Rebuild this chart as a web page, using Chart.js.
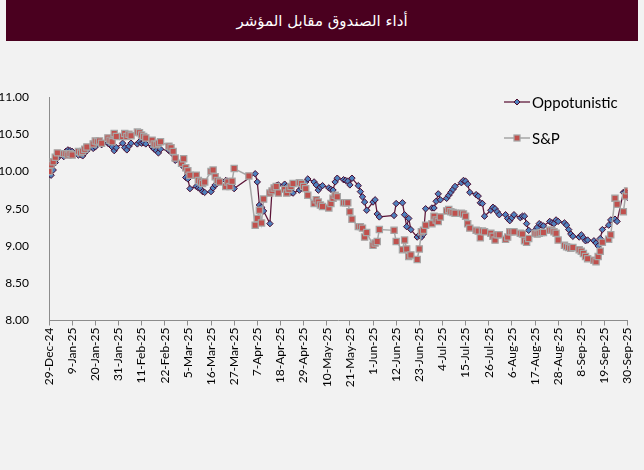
<!DOCTYPE html>
<html><head><meta charset="utf-8">
<script src="https://cdn.jsdelivr.net/npm/chart.js@4"></script>
<style>
html,body{margin:0;padding:0;background:#f2f2f2;width:644px;height:470px;overflow:hidden;}
#wrap{position:relative;width:644px;height:470px;background:#f2f2f2;}
#title{position:absolute;left:6px;top:0;width:632px;height:41px;background:#4a001f;color:#fff;font-family:"DejaVu Sans",sans-serif;font-size:15px;display:flex;align-items:center;justify-content:center;direction:rtl;z-index:2;}
#c{position:absolute;left:0;top:0;}
#legend{position:absolute;left:504px;top:92px;font-family:Lato,sans-serif;font-size:15px;color:#000;z-index:2;}
.row{display:flex;align-items:center;height:20px;margin-bottom:16px;}
.row svg{margin-right:2px;}
</style></head>
<body><div id="wrap">
<div id="title">أداء الصندوق مقابل المؤشر</div>
<canvas id="c" width="644" height="470"></canvas>
<div id="legend">
 <div class="row"><svg width="26" height="12"><line x1="0" y1="6" x2="26" y2="6" stroke="#5b1336" stroke-width="1.25"/><polygon points="13,3 16,6 13,9 10,6" fill="#4f81bd" stroke="#4a0a2e" stroke-width="1"/></svg><span>Oppotunistic</span></div>
 <div class="row"><svg width="26" height="12"><line x1="0" y1="6" x2="26" y2="6" stroke="#a6a6a6" stroke-width="1.5"/><rect x="10" y="3" width="6" height="6" fill="#c0504d" stroke="#a6a6a6" stroke-width="1.25"/></svg><span>S&amp;P</span></div>
</div>
</div>
<script>
const seriesNames = ["Oppotunistic", "S&P"];
const dates = ["2024-12-29","2024-12-30","2024-12-31","2025-01-01","2025-01-02",
"2025-01-05","2025-01-06","2025-01-07","2025-01-08","2025-01-09",
"2025-01-12","2025-01-13","2025-01-14","2025-01-15","2025-01-16",
"2025-01-19","2025-01-20","2025-01-21","2025-01-22","2025-01-23",
"2025-01-26","2025-01-27","2025-01-28","2025-01-29","2025-01-30",
"2025-02-02","2025-02-03","2025-02-04","2025-02-05","2025-02-06",
"2025-02-09","2025-02-10","2025-02-11","2025-02-12","2025-02-13",
"2025-02-16","2025-02-17","2025-02-18","2025-02-19","2025-02-20",
"2025-02-24","2025-02-25","2025-02-26","2025-02-27",
"2025-03-02","2025-03-03","2025-03-04","2025-03-05","2025-03-06",
"2025-03-09","2025-03-10","2025-03-11","2025-03-12","2025-03-13",
"2025-03-16","2025-03-17","2025-03-18","2025-03-19","2025-03-20",
"2025-03-23","2025-03-24","2025-03-25","2025-03-26","2025-03-27",
"2025-04-03",
"2025-04-06","2025-04-07","2025-04-08","2025-04-09","2025-04-10",
"2025-04-13","2025-04-14","2025-04-15","2025-04-16","2025-04-17",
"2025-04-20","2025-04-21","2025-04-22","2025-04-23","2025-04-24",
"2025-04-27","2025-04-28","2025-04-29","2025-04-30","2025-05-01",
"2025-05-04","2025-05-05","2025-05-06","2025-05-07","2025-05-08",
"2025-05-11","2025-05-12","2025-05-13","2025-05-14","2025-05-15",
"2025-05-18","2025-05-19","2025-05-20","2025-05-21","2025-05-22",
"2025-05-25","2025-05-26","2025-05-27","2025-05-28","2025-05-29",
"2025-06-01","2025-06-02","2025-06-03","2025-06-04",
"2025-06-11","2025-06-12",
"2025-06-15","2025-06-16","2025-06-17","2025-06-18","2025-06-19",
"2025-06-22","2025-06-23","2025-06-24","2025-06-25","2025-06-26",
"2025-06-29","2025-06-30","2025-07-01","2025-07-02","2025-07-03",
"2025-07-06","2025-07-07","2025-07-08","2025-07-09","2025-07-10",
"2025-07-13","2025-07-14","2025-07-15","2025-07-16","2025-07-17",
"2025-07-20","2025-07-21","2025-07-22","2025-07-23","2025-07-24",
"2025-07-27","2025-07-28","2025-07-29","2025-07-30","2025-07-31",
"2025-08-03","2025-08-04","2025-08-05","2025-08-06","2025-08-07",
"2025-08-10","2025-08-11","2025-08-12","2025-08-13","2025-08-14",
"2025-08-17","2025-08-18","2025-08-19","2025-08-20","2025-08-21",
"2025-08-24","2025-08-25","2025-08-26","2025-08-27","2025-08-28",
"2025-08-31","2025-09-01","2025-09-02","2025-09-03","2025-09-04",
"2025-09-07","2025-09-08","2025-09-09","2025-09-10","2025-09-11",
"2025-09-14","2025-09-15","2025-09-16","2025-09-17","2025-09-18",
"2025-09-21","2025-09-22","2025-09-24","2025-09-25",
"2025-09-28","2025-09-29","2025-09-30"];

const oppValues = [9.96,9.95,10.02,10.12,10.18,
10.20,10.27,10.29,10.28,10.27,
10.22,10.23,10.21,10.25,10.28,
10.31,10.33,10.37,10.38,10.36,
10.38,10.36,10.33,10.28,10.32,
10.38,10.32,10.29,10.34,10.38,
10.37,10.40,10.38,10.39,10.37,
10.33,10.30,10.28,10.25,10.30,
10.28,10.27,10.23,10.15,
10.10,10.06,9.92,9.90,9.77,
9.80,9.78,9.77,9.73,9.72,
9.73,9.78,9.82,9.84,9.86,
9.88,9.87,9.85,9.83,9.77,
null,
9.97,9.86,9.55,9.52,9.47,
9.30,9.75,9.78,9.81,9.82,
9.83,9.80,9.74,9.72,9.71,
9.75,9.78,9.83,9.86,9.90,
9.86,9.82,9.75,9.79,9.81,
9.78,9.76,9.75,9.86,9.91,
9.89,9.88,9.87,9.82,9.91,
9.81,9.73,9.66,9.59,9.48,
9.59,9.62,9.43,9.39,
9.41,9.57,
9.58,9.42,9.26,9.37,9.22,
9.12,9.15,9.12,9.16,9.50,
9.51,9.51,9.60,9.70,9.62,
9.64,9.68,9.72,9.76,9.80,
9.85,9.88,9.87,9.83,9.72,
9.69,9.67,9.58,9.57,9.40,
9.48,9.52,9.50,9.46,9.42,
9.42,9.37,9.34,9.38,9.42,
9.38,9.40,9.40,9.30,9.21,
9.21,9.25,9.30,9.28,9.27,
9.33,9.31,9.30,9.35,9.33,
9.31,9.28,9.22,9.16,9.13,
9.12,9.15,9.11,9.07,9.08,
9.07,9.04,9.00,9.10,9.22,
9.28,9.35,9.36,9.33,
9.72,9.73,9.65];

const spValues = [10.00,10.09,10.13,10.19,10.25,
10.24,10.24,10.22,10.24,10.22,
10.27,10.25,10.27,10.30,10.33,
10.37,10.41,10.40,10.41,10.38,
10.45,10.42,10.40,10.51,10.47,
10.47,10.51,10.47,10.50,10.48,
10.53,10.52,10.49,10.47,10.45,
10.42,10.37,10.36,10.38,10.40,
10.34,10.32,10.27,10.18,
10.11,10.17,10.05,10.01,9.95,
9.95,9.88,9.86,9.84,9.86,
10.00,10.02,9.93,9.88,9.86,
9.80,9.86,9.80,9.87,10.04,
9.94,
9.28,9.37,9.48,9.31,9.63,
9.71,9.74,9.78,9.80,9.71,
9.76,9.71,9.76,9.80,9.84,
9.85,9.84,9.80,9.77,9.68,
9.57,9.62,9.59,9.55,9.53,
9.51,9.57,9.64,9.68,9.66,
9.58,9.58,9.58,9.46,9.36,
9.26,9.26,9.24,9.12,9.18,
9.01,9.04,9.06,9.22,
9.21,9.06,
8.95,9.08,8.96,8.86,8.88,
8.82,8.96,9.19,9.21,9.28,
9.30,9.40,9.35,9.33,9.39,
9.47,9.49,9.46,9.45,9.44,
9.44,9.43,9.40,9.30,9.24,
9.21,9.20,9.11,9.20,9.19,
9.17,9.13,9.08,9.15,9.15,
9.09,9.12,9.19,9.19,9.19,
9.17,9.16,9.07,9.05,9.10,
9.17,9.16,9.17,9.18,9.18,
9.21,9.21,9.19,9.17,9.08,
9.01,8.99,8.98,8.97,8.98,
8.95,8.93,8.90,8.86,8.83,
8.81,8.79,8.86,8.93,9.05,
9.09,9.15,9.64,9.56,
9.46,9.67,9.74];

const axisStart = "2024-12-29";
const axisEnd = "2025-09-30";
const tickStepDays = 11;
const yTicks = [8.00, 8.50, 9.00, 9.50, 10.00, 10.50, 11.00];

const DAY = 864e5;
const t0 = Date.parse(axisStart + "T00:00:00Z");
const dayOf = s => Math.round((Date.parse(s + "T00:00:00Z") - t0) / DAY);
const maxDay = dayOf(axisEnd);
const MONTHS = ["Jan","Feb","Mar","Apr","May","Jun","Jul","Aug","Sep","Oct","Nov","Dec"];
function fmtDay(v){
  const d = new Date(t0 + v * DAY);
  return d.getUTCDate() + "-" + MONTHS[d.getUTCMonth()] + "-" + String(d.getUTCFullYear()).slice(2);
}
const xs = dates.map(dayOf);
const oppData = xs.map((x,i)=>({x, y: oppValues[i]}));
const spData = xs.map((x,i)=>({x, y: spValues[i]}));

const axisColor = "#8c8c8c";
new Chart(document.getElementById("c"), {
  type: "line",
  data: {
    datasets: [
      { label: seriesNames[0], data: oppData, order: 1, spanGaps: true,
        borderColor: "#5b1336", borderWidth: 1.25, tension: 0,
        pointStyle: "rectRot", pointRadius: 3.2, pointBackgroundColor: "#4f81bd",
        pointBorderColor: "#4a0a2e", pointBorderWidth: 1 },
      { label: seriesNames[1], data: spData, order: 0, spanGaps: true,
        borderColor: "#a6a6a6", borderWidth: 1.5, tension: 0,
        pointStyle: "rect", pointRadius: 4.4, pointBackgroundColor: "#c0504d",
        pointBorderColor: "#a6a6a6", pointBorderWidth: 1.25 }
    ]
  },
  options: {
    responsive: false, animation: false, devicePixelRatio: 1,
    layout: { padding: { top: 97, right: 13, left: 0, bottom: 0 } },
    plugins: { legend: { display: false }, tooltip: { enabled: false } },
    scales: {
      x: {
        type: "linear", min: 0, max: maxDay,
        afterFit(s){ s.height = 149.5; },
        grid: { display: true, drawOnChartArea: false, drawTicks: true, tickLength: 5, color: axisColor },
        border: { display: true, color: axisColor, width: 1 },
        ticks: { stepSize: tickStepDays, autoSkip: false, maxRotation: 90, minRotation: 90, padding: 2,
          color: "#000", font: { family: "Lato", size: 12 }, callback: v => fmtDay(v) }
      },
      y: {
        min: yTicks[0], max: yTicks[yTicks.length-1],
        afterFit(s){ s.width = 49; },
        afterBuildTicks(s){ s.ticks = yTicks.map(v => ({ value: v })); },
        grid: { display: false },
        border: { display: true, color: axisColor, width: 1 },
        ticks: { padding: 12, color: "#000", font: { family: "Lato", size: 12 }, callback: v => Number(v).toFixed(2) }
      }
    }
  }
});
</script>
</body></html>
